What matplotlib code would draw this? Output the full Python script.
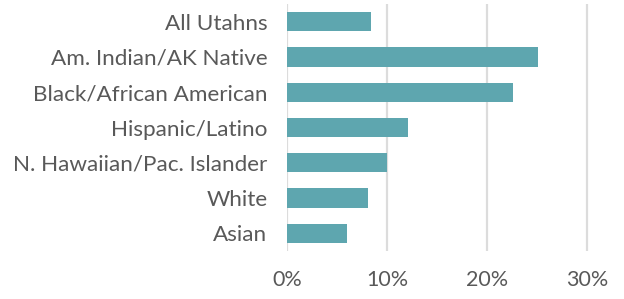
import matplotlib
matplotlib.use("Agg")
import matplotlib.pyplot as plt

categories = ["All Utahns", "Am. Indian/AK Native", "Black/African American",
              "Hispanic/Latino", "N. Hawaiian/Pac. Islander", "White", "Asian"]
values = [8.4, 25.1, 22.6, 12.1, 10.0, 8.1, 6.0]
xticks = [0, 10, 20, 30]
xticklabels = ["0%", "10%", "20%", "30%"]

plt.rcParams['font.family'] = ['Lato', 'DejaVu Sans']

fig = plt.figure(figsize=(6.24, 2.99), dpi=100)
W, H = 624, 299
x0, x1 = 287, 607
y_top, y_bot = 4, 251
ax = fig.add_axes([x0 / W, 1 - y_bot / H, (x1 - x0) / W, (y_bot - y_top) / H])

pos = list(range(len(categories)))
ax.barh(pos, values, height=0.55, color="#5ea6af", zorder=3)
ax.set_ylim(len(categories) - 0.5, -0.5)
ax.set_xlim(0, 32)

ax.set_xticks(xticks)
ax.set_xticklabels(xticklabels)
ax.set_yticks(pos)
ax.set_yticklabels(categories)

for x in xticks:
    ax.axvline(x, color="#dcdcdc", lw=1.6, zorder=1)

for s in ax.spines.values():
    s.set_visible(False)
ax.tick_params(axis='both', length=0, colors="#595959")
ax.tick_params(axis='y', pad=14, labelsize=16.2)
ax.tick_params(axis='x', pad=14, labelsize=15.5)

fig.savefig("out.png", dpi=100)
